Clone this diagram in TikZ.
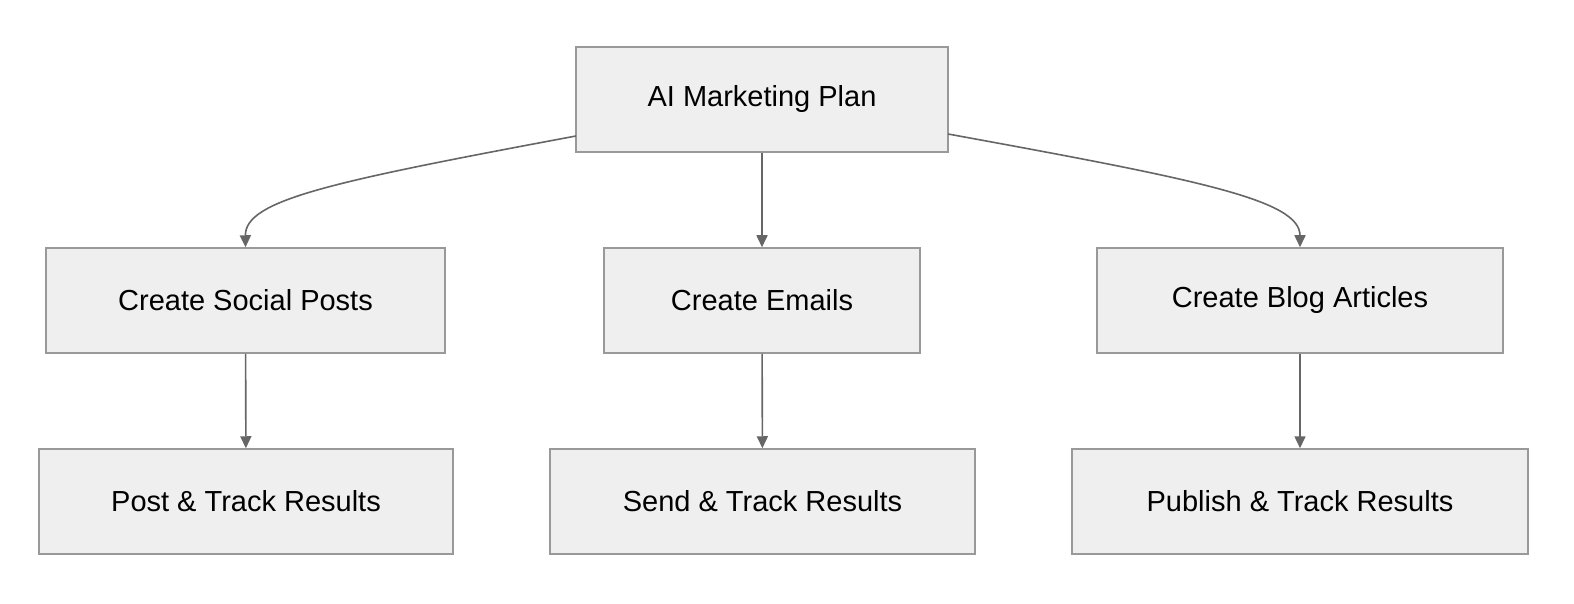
\documentclass[tikz,border=0pt]{standalone}
\usepackage{fontspec}
\setmainfont{Liberation Sans}
\usetikzlibrary{arrows.meta}
\definecolor{boxfill}{HTML}{EFEFEF}
\definecolor{boxdraw}{HTML}{999999}
\definecolor{edge}{HTML}{666666}
\begin{document}
\begin{tikzpicture}[x=1pt,y=-1pt,
  box/.style={draw=boxdraw,fill=boxfill,line width=1.5pt,minimum height=105pt,inner sep=0pt,font=\fontsize{29}{34}\selectfont},
  arr/.style={draw=edge,line width=1.6pt,-{Triangle[length=12pt,width=11pt]}}]
\useasboundingbox (0,0) rectangle (1574,604);
\node[box,minimum width=372pt] (top) at (762,99.5) {AI Marketing Plan};
\node[box,minimum width=399pt] (soc) at (245.5,300.5) {Create Social Posts};
\node[box,minimum width=316pt] (em) at (762,300.5) {Create Emails};
\node[box,minimum width=406pt] (blog) at (1300,300.5) {Create Blog Articles};
\node[box,minimum width=414pt] (post) at (246,501.5) {Post \& Track Results};
\node[box,minimum width=425pt] (send) at (762.5,501.5) {Send \& Track Results};
\node[box,minimum width=456pt] (pub) at (1300,501.5) {Publish \& Track Results};
\coordinate (tl) at (576,136);
\coordinate (tr) at (948,134);
\draw[arr] (tl) .. controls (330,182) and (245,200) .. (soc.north);
\draw[arr] (tr) .. controls (1200,180) and (1300,200) .. (blog.north);
\draw[arr] (top) -- (em);
\draw[arr] (soc) -- (post);
\draw[arr] (em) -- (send);
\draw[arr] (blog) -- (pub);
\end{tikzpicture}
\end{document}
